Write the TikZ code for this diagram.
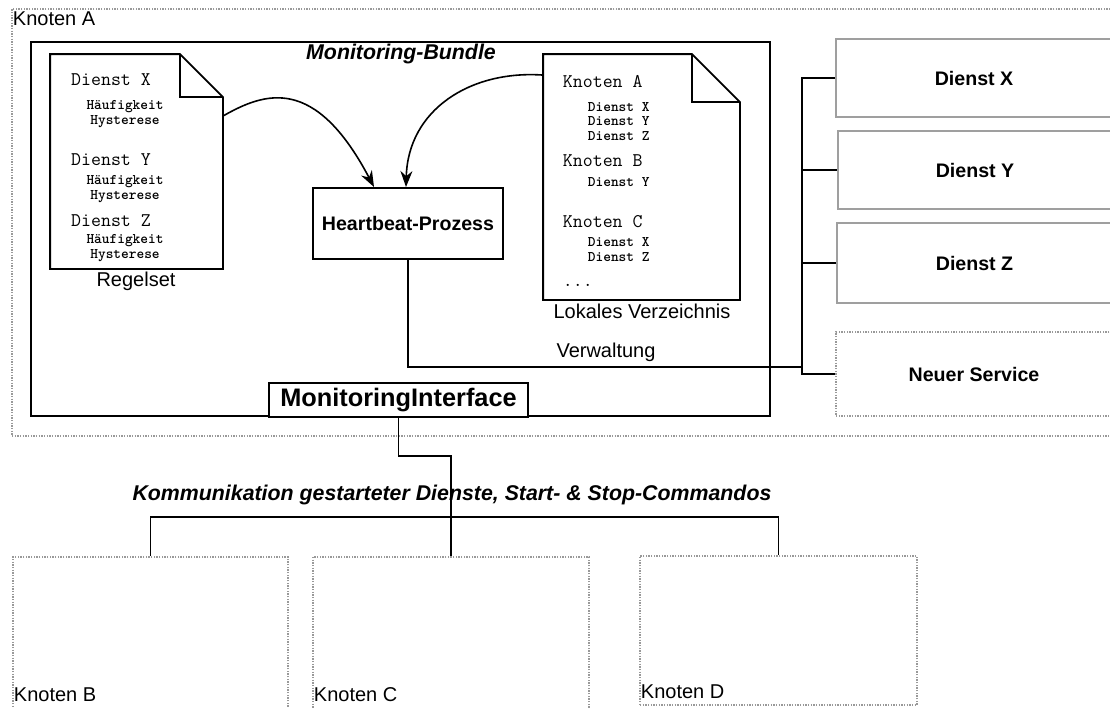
\documentclass[tikz,border=0pt]{standalone}
\usepackage{fontspec}
\setmainfont{Liberation Sans}
\usetikzlibrary{arrows.meta,calc}
\newcommand{\px}{0.75pt}

\begin{document}
\begin{tikzpicture}[x=0.75pt,y=-0.75pt,line width=1.4pt,
  every node/.style={font=\fontsize{15}{17}\selectfont},
  knoten/.style={draw=gray!80,line width=1.2pt,dash pattern=on 1pt off 1pt,inner sep=0pt},
  rahmen/.style={draw,line width=1.5pt,inner sep=0pt},
  dienst/.style={draw=gray!75,line width=1.5pt,inner sep=0pt,font=\bfseries\fontsize{14.7}{17}\selectfont},
  doc/.style={draw=none,inner sep=0pt},
  mono/.style={inner sep=0pt,font=\ttfamily\fontsize{14.5}{16}\selectfont},
  monoklein/.style={inner sep=0pt,font=\ttfamily\bfseries\fontsize{11}{13}\selectfont},
  pfeil/.style={-{Stealth[length=12pt,width=9pt]},line width=1.2pt}]
    \clip (0,0) rectangle (1110,707);

    % Knoten A mit Monitoring-Bundle
    \node[knoten,minimum width=1113*\px,minimum height=427*\px] (knotenA) at (568.5,222.5) {};
    \node[anchor=west,inner sep=0pt] (lblA) at (12,19) {Knoten A};
    \node[rahmen,minimum width=739*\px,minimum height=374*\px] (bundle) at (400.5,229) {};
    \node[font=\bfseries\itshape\fontsize{16}{18}\selectfont] (bundletitel) at (401,54) {Monitoring-Bundle};

    % Regelset
    \node[doc,minimum width=171*\px,minimum height=213*\px] (regelset) at (136.5,161.5) {};
    \draw (regelset.south west) |- ($(regelset.north east)+(-43,0)$) -- ($(regelset.north east)+(0,43)$) -- (regelset.south east) -- cycle;
    \draw ($(regelset.north east)+(-43,0)$) |- ($(regelset.north east)+(0,43)$);
    \foreach \n/\a/\b/\c in {X/80/107/122,Y/160/182/197,Z/221/241/256}{
        \node[mono] (regel\n) at (111,\a) {Dienst \n};
        \node[monoklein] (haeuf\n) at (125,\b) {Häufigkeit};
        \node[monoklein] (hyst\n) at (125,\c) {Hysterese};
    }
    \node (regelsetlbl) at (136,281) {Regelset};

    % Lokales Verzeichnis
    \node[doc,minimum width=195*\px,minimum height=244*\px] (verzeichnis) at (641.5,177) {};
    \draw (verzeichnis.south west) |- ($(verzeichnis.north east)+(-48,0)$) -- ($(verzeichnis.north east)+(0,48)$) -- (verzeichnis.south east) -- cycle;
    \draw ($(verzeichnis.north east)+(-48,0)$) |- ($(verzeichnis.north east)+(0,48)$);
    \foreach \k/\y in {A/82,B/161,C/222}
        \node[mono,anchor=west] (vzk\k) at (562,\y) {Knoten \k};
    \foreach \t/\y in {Dienst X/107,Dienst Y/121,Dienst Z/136,Dienst Y/182,Dienst X/242,Dienst Z/257}
        \node[monoklein,anchor=west] (vz\y) at (587,\y) {\t};
    \node[mono,anchor=west] (vzpunkte) at (562,285) {...};
    \node (vzlbl) at (642,311) {Lokales Verzeichnis};

    % Heartbeat
    \node[rahmen,minimum width=190*\px,minimum height=71*\px,font=\bfseries\fontsize{14.7}{17}\selectfont] (heartbeat) at (408,223.5) {Heartbeat-Prozess};
    \draw[pfeil] ($(regelset.north east)+(0,62)$) .. controls (265,92) and (315,75) .. ($(heartbeat.north west)+(62,0)$);
    \draw[pfeil] ($(verzeichnis.north west)+(0,21)$) .. controls (470,70) and (408,110) .. ($(heartbeat.north)+(-2,0)$);

    % Dienste
    \node[dienst,minimum width=276*\px,minimum height=78*\px] (dienstX) at (974,78) {Dienst X};
    \node[dienst,minimum width=274*\px,minimum height=78*\px] (dienstY) at (975,170) {Dienst Y};
    \node[dienst,minimum width=275*\px,minimum height=80*\px] (dienstZ) at (974.5,263) {Dienst Z};
    \node[knoten,minimum width=276*\px,minimum height=84*\px,font=\bfseries\fontsize{14.7}{17}\selectfont] (neuer) at (974,374) {Neuer Service};
    \draw (dienstX.west) -- ++(-33,0) |- (neuer.west);
    \draw (dienstY.west) -- ++(-35,0);
    \draw (dienstZ.west) -- ++(-34,0);
    \coordinate (verwaltung) at (803,367);
    \draw (heartbeat.south) |- (verwaltung);
    \node (verwlbl) at (606,352) {Verwaltung};

    % Interface und andere Knoten
    \node[rahmen,fill=white,minimum width=259*\px,minimum height=34*\px,font=\bfseries\fontsize{19}{22}\selectfont] (mi) at (398.5,400) {MonitoringInterface};
    \node[knoten,minimum width=275*\px,minimum height=160*\px] (knotenB) at (150.5,637) {};
    \node[knoten,minimum width=276*\px,minimum height=160*\px] (knotenC) at (451,637) {};
    \node[knoten,minimum width=277*\px,minimum height=149*\px] (knotenD) at (778.5,630.5) {};
    \node[anchor=west,inner sep=0pt] (lblB) at (13,695) {Knoten B};
    \node[anchor=west,inner sep=0pt] (lblC) at (313,695) {Knoten C};
    \node[anchor=west,inner sep=0pt] (lblD) at (640,692) {Knoten D};
    \draw (mi.south) -- ++(0,38) -| (knotenC.north);
    \draw (knotenB.north) -- ++(0,-39) -| (knotenD.north);
    \node[font=\bfseries\itshape\fontsize{16}{18}\selectfont] (komm) at (452,495) {Kommunikation gestarteter Dienste, Start- \& Stop-Commandos};
\end{tikzpicture}
\end{document}
